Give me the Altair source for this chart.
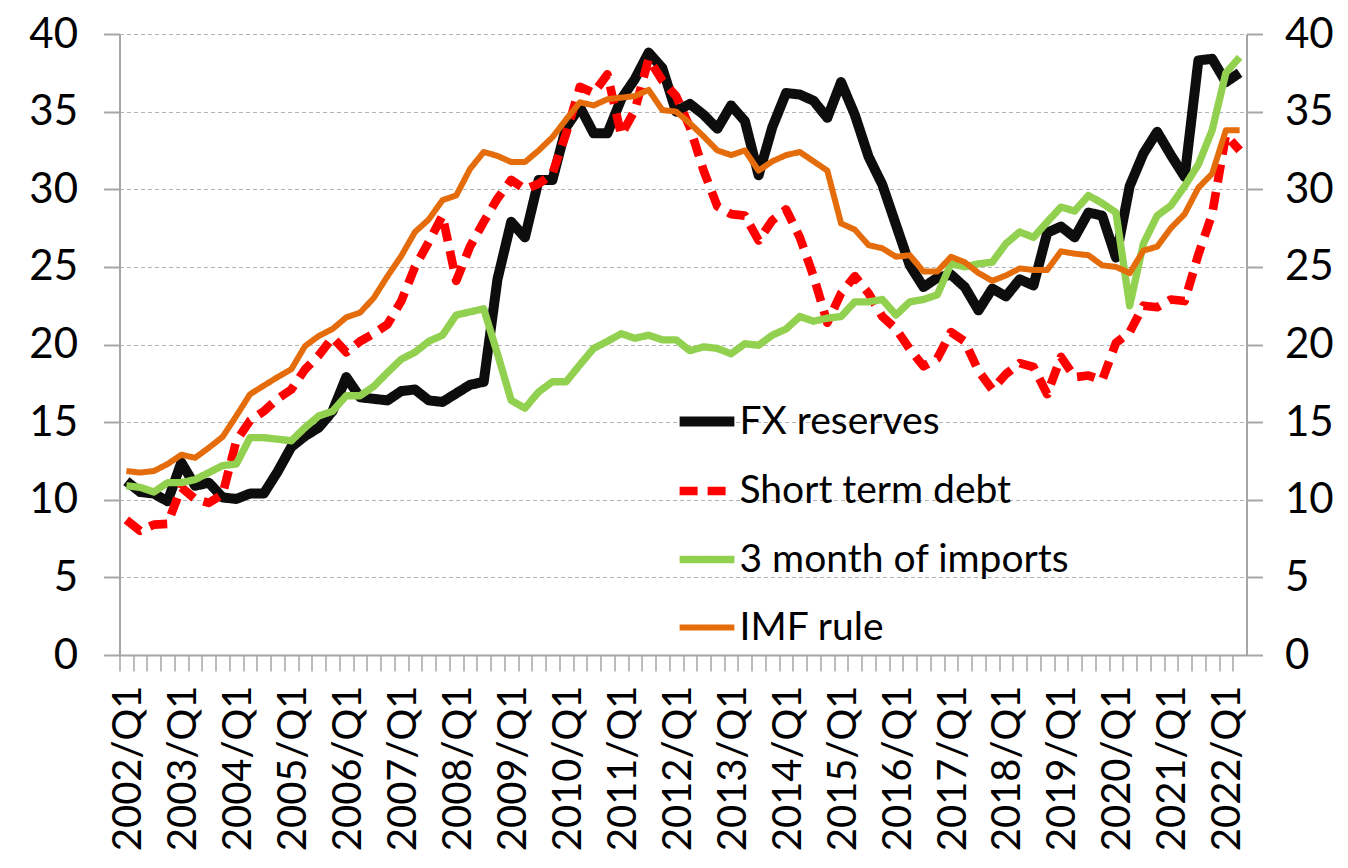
import altair as alt
import pandas as pd

quarters = [f"{y}/Q{q}" for y in range(2002, 2023) for q in (1, 2, 3, 4)][:82]

fx_reserves = [
    11.2, 10.5, 10.4, 9.9, 12.4, 10.9, 11.1, 10.15,
    10.05, 10.4, 10.4, 11.8, 13.4, 14.1, 14.65, 15.7,
    17.9, 16.6, 16.5, 16.4, 17.0, 17.1, 16.4, 16.3,
    16.85, 17.4, 17.6, 24.2, 27.9, 26.9, 30.6, 30.6,
    34.0, 35.3, 33.6, 33.6, 35.8, 37.1, 38.8, 37.8,
    35.0, 35.5, 34.8, 33.9, 35.4, 34.4, 30.9, 34.0,
    36.2, 36.1, 35.7, 34.6, 36.9, 34.8, 32.1, 30.3,
    27.7, 25.1, 23.7, 24.3, 24.5, 23.7, 22.2, 23.6,
    23.1, 24.2, 23.8, 27.2, 27.6, 26.9, 28.5, 28.3,
    25.6, 30.2, 32.3, 33.7, 32.2, 30.8, 38.3, 38.4,
    36.9, 37.5,
]
short_term_debt = [
    8.7, 8.0, 8.4, 8.45, 10.8, 10.05, 9.8, 10.35,
    13.8, 15.1, 15.7, 16.5, 17.1, 18.4, 19.3, 20.45,
    19.5, 20.2, 20.7, 21.3, 22.8, 25.0, 26.6, 28.3,
    24.1, 26.3, 27.9, 29.4, 30.6, 30.0, 30.35, 31.0,
    33.6, 36.6, 36.2, 37.4, 33.5, 35.1, 38.4, 37.0,
    36.0, 34.0, 31.2, 28.9, 28.4, 28.3, 26.7, 28.0,
    28.7, 26.9, 24.4, 21.4, 23.3, 24.4, 23.3, 21.8,
    21.0, 19.7, 18.6, 19.1, 20.8, 20.2, 18.3, 17.1,
    18.1, 18.8, 18.55, 16.8, 19.2, 17.9, 18.0, 17.7,
    20.1, 20.8, 22.5, 22.4, 22.9, 22.8, 25.8, 28.4,
    33.5, 32.5,
]
imports_3m = [
    10.9, 10.8, 10.5, 11.1, 11.1, 11.3, 11.75, 12.2,
    12.3, 14.0, 14.0, 13.9, 13.8, 14.65, 15.4, 15.7,
    16.7, 16.7, 17.3, 18.2, 19.05, 19.5, 20.2, 20.6,
    21.9, 22.1, 22.3, 19.4, 16.4, 15.9, 16.95, 17.6,
    17.6, 18.7, 19.75, 20.2, 20.7, 20.4, 20.6, 20.3,
    20.3, 19.6, 19.85, 19.75, 19.4, 20.05, 19.95, 20.6,
    21.0, 21.8, 21.5, 21.7, 21.8, 22.75, 22.75, 22.9,
    21.9, 22.75, 22.9, 23.2, 25.2, 25.0, 25.2, 25.3,
    26.5, 27.25, 26.9, 27.9, 28.85, 28.6, 29.6, 29.1,
    28.5, 22.5, 26.5, 28.3, 28.95, 30.2, 31.6, 33.8,
    37.5, 38.5,
]
imf_rule = [
    11.85, 11.75, 11.85, 12.3, 12.9, 12.7, 13.35, 14.05,
    15.4, 16.8, 17.35, 17.9, 18.4, 19.9, 20.55, 21.0,
    21.75, 22.05, 23.0, 24.4, 25.7, 27.25, 28.05, 29.3,
    29.6, 31.3, 32.4, 32.15, 31.75, 31.75, 32.5, 33.35,
    34.5, 35.6, 35.4, 35.8, 35.9, 36.0, 36.4, 35.1,
    35.0, 34.25, 33.4, 32.5, 32.2, 32.5, 31.2, 31.8,
    32.2, 32.4, 31.8, 31.2, 27.8, 27.4, 26.4, 26.2,
    25.65, 25.75, 24.7, 24.7, 25.65, 25.3, 24.6, 24.1,
    24.45, 24.9, 24.8, 24.8, 26.0, 25.85, 25.75, 25.1,
    25.0, 24.6, 26.05, 26.3, 27.5, 28.4, 30.1, 31.0,
    33.8, 33.8,
]

series_names = ["FX reserves", "Short term debt", "3 month of imports", "IMF rule"]
series_values = [fx_reserves, short_term_debt, imports_3m, imf_rule]
series_colors = ["#0d0d0d", "#ff0000", "#92d050", "#e46c0a"]
series_widths = [10, 6, 5, 4]
series_dashes = [[1, 0], [18, 10], [1, 0], [1, 0]]
y_ticks = [0, 5, 10, 15, 20, 25, 30, 35, 40]

rows = []
for name, vals in zip(series_names, series_values):
    for q, v in zip(quarters, vals):
        rows.append({"quarter": q, "series": name, "value": v})
df = pd.DataFrame(rows)

FONT = "Lato"
W, H = 1127, 621
step = W / len(quarters)
AX = "#a6a6a6"

x_enc = alt.X(
    "quarter:O",
    sort=quarters,
    scale=alt.Scale(type="point", padding=0.5, domain=quarters),
    axis=alt.Axis(
        title=None, labelAngle=270,
        labelExpr="test(/Q1$/, datum.value) ? datum.value : ''",
        tickSize=16, tickOffset=-step / 2, labelOffset=step / 2 + 2,
        tickColor=AX, tickWidth=1.5, domainColor=AX, domainWidth=2,
        labelFontSize=40, labelFont=FONT, labelColor="black",
        labelPadding=14, grid=False, labelOverlap=False, labelFlush=False,
    ),
)

y_scale = alt.Scale(domain=[0, 40], nice=False)
y_left = alt.Y(
    "value:Q", scale=y_scale,
    axis=alt.Axis(
        title=None, orient="left", values=y_ticks, grid=True,
        gridDash=[4, 3], gridColor="#b4b4b4", gridWidth=1,
        domainColor=AX, domainWidth=2, tickColor=AX, tickWidth=2, tickSize=16,
        labelFontSize=42, labelFont=FONT, labelColor="black", labelPadding=26,
    ),
)
y_right = alt.Y(
    "value:Q", scale=y_scale,
    axis=alt.Axis(
        title=None, orient="right", values=y_ticks, grid=False,
        domainColor=AX, domainWidth=2, tickColor=AX, tickWidth=2, tickSize=16,
        labelFontSize=42, labelFont=FONT, labelColor="black", labelPadding=22,
    ),
)

legend = alt.Legend(
    title=None, orient="none", legendX=555, legendY=355,
    symbolType="stroke", symbolSize=3000, labelFontSize=39, labelFont=FONT,
    labelColor="black", rowPadding=17, labelOffset=0, labelLimit=800,
)

color = alt.Color("series:N", scale=alt.Scale(domain=series_names, range=series_colors), legend=legend)
dash = alt.StrokeDash("series:N", scale=alt.Scale(domain=series_names, range=series_dashes), legend=legend)
width = alt.StrokeWidth("series:N", scale=alt.Scale(domain=series_names, range=series_widths), legend=legend)

layers = [
    alt.Chart(df)
    .transform_filter(alt.datum.series == n)
    .mark_line(strokeJoin="round")
    .encode(x=x_enc, y=y_left, color=color, strokeDash=dash, strokeWidth=width)
    for n in series_names
]
lines = alt.layer(*layers)

right = alt.Chart(df).mark_line(strokeOpacity=0).encode(x=x_enc, y=y_right, detail="series:N")

chart = (
    alt.layer(lines, right)
    .resolve_axis(y="independent")
    .properties(
        width=W, height=H,
        autosize=alt.AutoSizeParams(type="none"),
        padding={"left": 111.5, "top": 26, "right": 90, "bottom": 197},
    )
    .configure_view(stroke=None)
)

chart.save("out.html", embed_options={"renderer": "svg", "actions": False})
